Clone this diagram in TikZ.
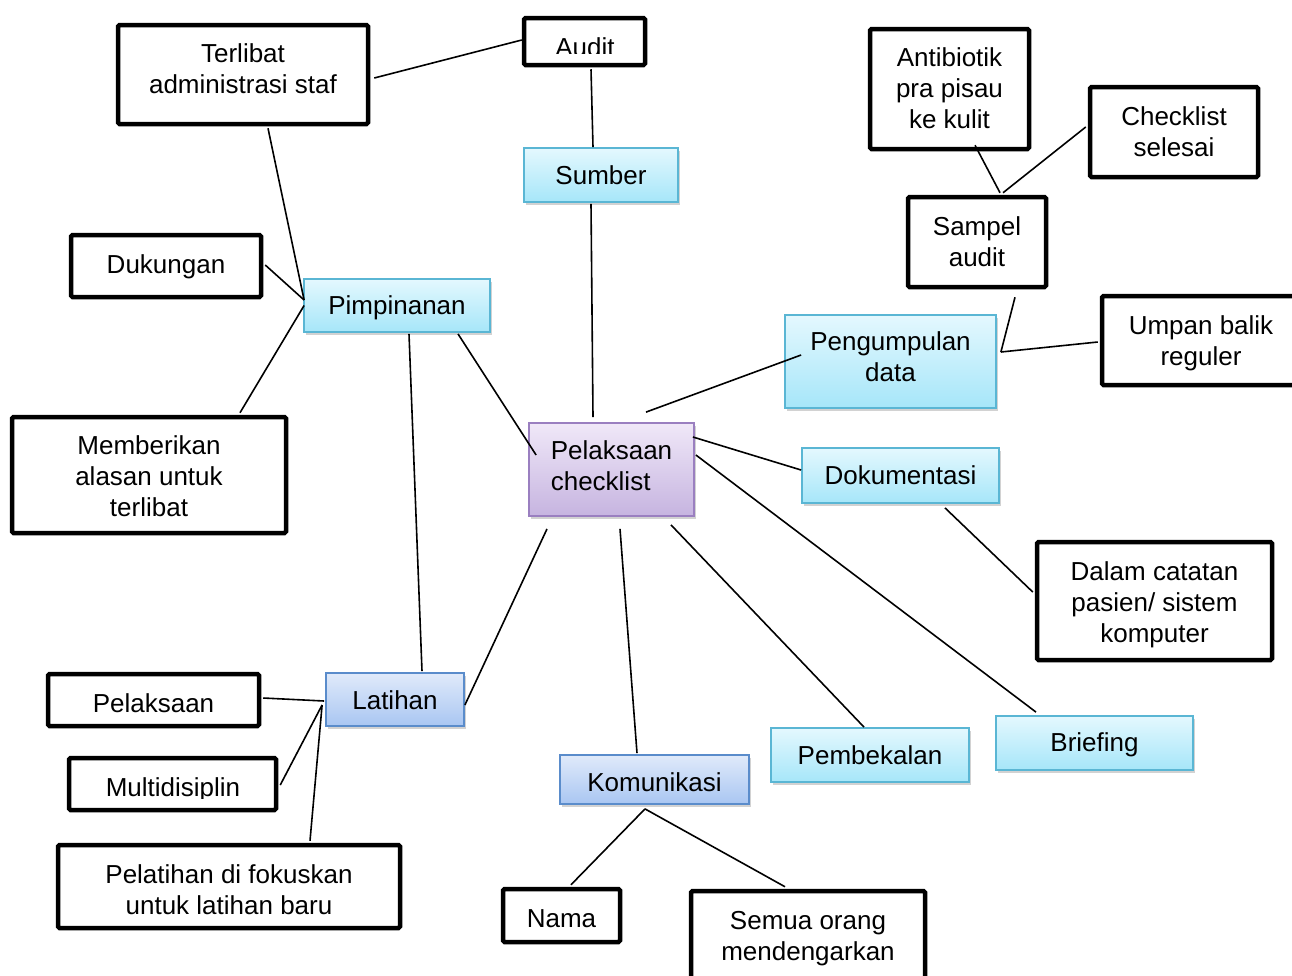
\documentclass[tikz,border=0pt]{standalone}
\usepackage{fontspec}
\setmainfont{Liberation Sans}
\usetikzlibrary{calc,shadows}
\definecolor{cyTop}{HTML}{E4F8FE}
\definecolor{cyBot}{HTML}{A6E6F9}
\definecolor{cyLine}{HTML}{5AB6D4}
\definecolor{blTop}{HTML}{E0EAFA}
\definecolor{blBot}{HTML}{A9C6F2}
\definecolor{blLine}{HTML}{5A8CCB}
\definecolor{puTop}{HTML}{F0E8F8}
\definecolor{puBot}{HTML}{C6B4E0}
\definecolor{puLine}{HTML}{9A7FC0}
\tikzset{
  base/.style={rectangle, align=center, inner sep=0pt, font=\fontsize{26}{31}\selectfont},
  lbl/.style={base},
  blackbox/.style={base, draw=black, line width=4.5pt, fill=white, rounded corners=1.5pt},
  softbox/.style={base, line width=1.8pt, drop shadow={opacity=0.35, shadow xshift=2pt, shadow yshift=-3pt}},
  cyanbox/.style={softbox, draw=cyLine, top color=cyTop, bottom color=cyBot},
  bluebox/.style={softbox, draw=blLine, top color=blTop, bottom color=blBot},
  purplebox/.style={softbox, draw=puLine, top color=puTop, bottom color=puBot},
  conn/.style={draw=black, line width=1.6pt},
  sz/.style 2 args={minimum width=#1pt, minimum height=#2pt}
}
\begin{document}
\begin{tikzpicture}[x=1pt,y=-1pt]
\clip (0,0) rectangle (1292,975);
\fill[white] (0,0) rectangle (1292,975);

% boxes
\node[blackbox, sz={121}{47}] (audit) at (584.5,41.5) {};
\node[blackbox, sz={250}{99}] (terlibat) at (243,74.5) {};
\node[cyanbox, sz={154}{54}] (sumber) at (601,175) {};
\node[blackbox, sz={159}{120}] (antibiotik) at (949.5,89) {};
\node[blackbox, sz={168}{90}] (checklist) at (1174,132) {};
\node[blackbox, sz={138}{90}] (sampel) at (977,242) {};
\node[blackbox, sz={190}{62}] (dukungan) at (166,266) {};
\node[cyanbox, sz={186}{53}] (pimp) at (397,305.5) {};
\node[blackbox, sz={198}{89}] (umpan) at (1201,340.5) {};
\node[cyanbox, sz={211}{93}] (pengumpulan) at (890.5,361.5) {};
\node[blackbox, sz={274}{116}] (memberikan) at (149,475) {};
\node[purplebox, sz={165}{93}] (center) at (611.5,469.5) {};
\node[cyanbox, sz={197}{55}] (dokumentasi) at (900.5,475.5) {};
\node[blackbox, sz={235}{118}] (dalam) at (1154.5,601) {};
\node[blackbox, sz={211}{52}] (pelaksaan) at (153.5,700) {};
\node[bluebox, sz={138}{53}] (latihan) at (395,699.5) {};
\node[blackbox, sz={207}{52}] (multi) at (172.5,784) {};
\node[blackbox, sz={342}{83}] (pelatihan) at (229,886.5) {};
\node[cyanbox, sz={198}{54}] (pembekalan) at (870,755) {};
\node[cyanbox, sz={197}{54}] (briefing) at (1094.5,743) {};
\node[bluebox, sz={189}{49}] (komunikasi) at (654.5,779.5) {};
\node[blackbox, sz={117}{53}] (nama) at (561.5,915.5) {};
\node[blackbox, sz={234}{89}] (semua) at (808,935.5) {};

% texts
\node[lbl] (terlibatT) at ($(terlibat)+(0,-6)$) {Terlibat\\administrasi staf};
\node[lbl] (sumberT) at ($(sumber)+(0,0)$) {Sumber};
\node[lbl] (antibiotikT) at ($(antibiotik)+(0,-1)$) {Antibiotik\\pra pisau\\ke kulit};
\node[lbl] (checklistT) at ($(checklist)+(0,0)$) {Checklist\\selesai};
\node[lbl] (sampelT) at ($(sampel)+(0,0)$) {Sampel\\audit};
\node[lbl] (dukunganT) at ($(dukungan)+(0,1)$) {Dukungan};
\node[lbl] (pimpT) at ($(pimp)+(0,2)$) {Pimpinanan};
\node[lbl] (umpanT) at ($(umpan)+(0,3)$) {Umpan balik\\reguler};
\node[lbl] (pengumpulanT) at ($(pengumpulan)+(0,-5)$) {Pengumpulan\\data};
\node[lbl] (memberikanT) at ($(memberikan)+(0,1.5)$) {Memberikan\\alasan untuk\\terlibat};
\node[lbl] (centerT) at ($(center)+(0,-1)$) {\begin{tabular}{@{}l@{}}Pelaksaan\\checklist\end{tabular}};
\node[lbl] (dokumentasiT) at ($(dokumentasi)+(0,0)$) {Dokumentasi};
\node[lbl] (dalamT) at ($(dalam)+(0,4)$) {Dalam catatan\\pasien/ sistem\\komputer};
\node[lbl] (pelaksaanT) at ($(pelaksaan)+(0,3)$) {Pelaksaan};
\node[lbl] (latihanT) at ($(latihan)+(0,1)$) {Latihan};
\node[lbl] (pelatihanT) at ($(pelatihan)+(0,3)$) {Pelatihan di fokuskan\\untuk latihan baru};
\node[lbl] (pembekalanT) at ($(pembekalan)+(0,0)$) {Pembekalan};
\node[lbl] (briefingT) at ($(briefing)+(0,2)$) {Briefing};
\node[lbl] (komunikasiT) at ($(komunikasi)+(0,3)$) {Komunikasi};
\node[lbl] (namaT) at ($(nama)+(0,3)$) {Nama};
\node[lbl] (semuaT) at ($(semua)+(0,3)$) {Semua orang\\mendengarkan};

% clipped texts
\begin{scope}
\clip (528,22) rectangle (641,53);
\node[lbl, anchor=base] (auditT) at (585,56) {Audit};
\end{scope}
\begin{scope}
\clip (73,762) rectangle (272,798);
\node[lbl, anchor=base] (multiT) at (173,796) {Multidisiplin};
\end{scope}

% connectors
\draw[conn] ($(terlibat.east)+(4,3.5)$) -- ($(audit.west)+(0,-1.5)$);
\draw[conn] ($(audit.south)+(6.5,2)$) -- ($(sumber.north)+(-8,0)$);
\draw[conn] ($(sumber.south)+(-10,1)$) -- ($(center.north)+(-18.5,-5)$);
\draw[conn] ($(terlibat.south)+(25,2)$) -- ($(pimp.west)+(1,-5.5)$);
\draw[conn] ($(dukungan.east)+(2,-1)$) -- ($(pimp.west)+(1,-5.5)$);
\draw[conn] ($(memberikan.north)+(91,-2)$) -- ($(pimp.west)+(1,0)$);
\draw[conn] ($(pimp.south)+(61,1)$) -- ($(center.west)+(8,-14.5)$);
\draw[conn] ($(pimp.south)+(12,1)$) -- ($(latihan.north)+(27,-1)$);
\draw[conn] ($(latihan.east)+(0,5.5)$) -- ($(center.south)+(-64.5,12)$);
\draw[conn] ($(pelaksaan.east)+(2,-2)$) -- ($(latihan.west)+(-1,1.5)$);
\draw[conn] ($(multi.east)+(2,1)$) -- ($(latihan.west)+(-3,5.5)$);
\draw[conn] ($(pelatihan.north)+(81,-2)$) -- ($(latihan.west)+(-3,5.5)$);
\draw[conn] ($(center.south)+(8.5,12)$) -- ($(komunikasi.north)+(-17.5,-1)$);
\draw[conn] ($(komunikasi.south)+(-9.5,4)$) -- ($(nama.north)+(9.5,-2)$);
\draw[conn] ($(komunikasi.south)+(-9.5,4)$) -- ($(semua.north)+(-23,-2)$);
\draw[conn] ($(center.south)+(59.5,8)$) -- ($(pembekalan.north)+(-6,0)$);
\draw[conn] ($(center.east)+(1,-14.5)$) -- ($(briefing.north)+(-58.5,-3)$);
\draw[conn] ($(center.east)+(-2,-32.5)$) -- ($(dokumentasi.west)+(0,-5.5)$);
\draw[conn] ($(dokumentasi.south)+(44.5,4)$) -- ($(dalam.west)+(-2,-9)$);
\draw[conn] ($(center.north)+(34.5,-10)$) -- ($(pengumpulan.west)+(17,-6.5)$);
\draw[conn] ($(pengumpulan.east)+(4,-9.5)$) -- ($(umpan.west)+(-2,1.5)$);
\draw[conn] ($(sampel.south)+(38,8)$) -- ($(pengumpulan.east)+(4,-9.5)$);
\draw[conn] ($(antibiotik.south)+(25.5,-6)$) -- ($(sampel.north)+(23,-2)$);
\draw[conn] ($(checklist.west)+(-2,-5)$) -- ($(sampel.north)+(26,-2)$);
\end{tikzpicture}
\end{document}
